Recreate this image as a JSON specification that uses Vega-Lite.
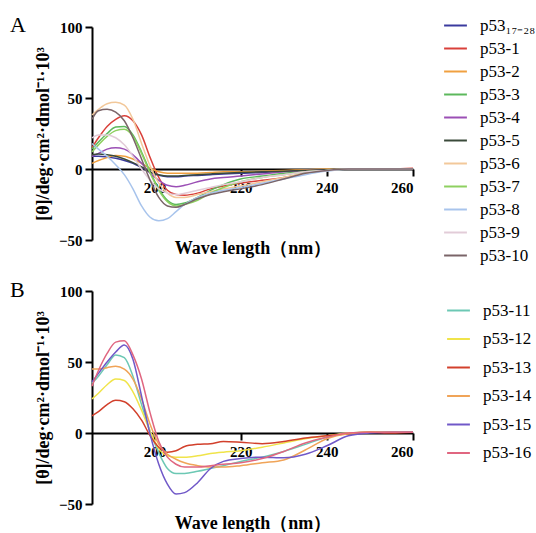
{
"$schema": "https://vega.github.io/schema/vega-lite/v6.json",
"padding": {"left": 10, "top": 13, "right": 5, "bottom": 0},
"config": {
 "view": {"stroke": null},
 "font": "Liberation Serif",
 "concat": {"spacing": 15},
 "axis": {"grid": false, "domainColor": "black", "domainWidth": 2, "tickColor": "black", "tickWidth": 2, "tickSize": 7, "labelFont": "Liberation Serif", "labelFontSize": 15, "labelFontWeight": "bold", "labelColor": "black", "titleFont": "Liberation Serif", "titleFontSize": 18, "titleFontWeight": "bold", "titleColor": "black"},
 "legend": {"symbolType": "stroke", "symbolStrokeWidth": 2, "symbolSize": 520, "labelFont": "Liberation Serif", "labelFontSize": 17, "labelColor": "black", "labelOffset": 12, "padding": 0}
},
"datasets": {
"A": [
{"s":"p53₁₇₋₂₈","x":185.5,"y":9},{"s":"p53₁₇₋₂₈","x":187,"y":9},{"s":"p53₁₇₋₂₈","x":189,"y":8.5},{"s":"p53₁₇₋₂₈","x":191,"y":7.5},{"s":"p53₁₇₋₂₈","x":193,"y":6},{"s":"p53₁₇₋₂₈","x":195,"y":4},{"s":"p53₁₇₋₂₈","x":197,"y":1},{"s":"p53₁₇₋₂₈","x":199,"y":-2.5},{"s":"p53₁₇₋₂₈","x":201,"y":-4.5},{"s":"p53₁₇₋₂₈","x":203,"y":-5.5},{"s":"p53₁₇₋₂₈","x":205,"y":-5.5},{"s":"p53₁₇₋₂₈","x":207,"y":-5},{"s":"p53₁₇₋₂₈","x":210,"y":-4.5},{"s":"p53₁₇₋₂₈","x":213,"y":-4},{"s":"p53₁₇₋₂₈","x":216,"y":-3.5},{"s":"p53₁₇₋₂₈","x":220,"y":-3},{"s":"p53₁₇₋₂₈","x":225,"y":-2.5},{"s":"p53₁₇₋₂₈","x":230,"y":-1.5},{"s":"p53₁₇₋₂₈","x":235,"y":-1},{"s":"p53₁₇₋₂₈","x":240,"y":-0.5},{"s":"p53₁₇₋₂₈","x":245,"y":0},{"s":"p53₁₇₋₂₈","x":250,"y":0},{"s":"p53₁₇₋₂₈","x":255,"y":0},{"s":"p53₁₇₋₂₈","x":260,"y":0},
{"s":"p53-1","x":185.5,"y":15},{"s":"p53-1","x":187,"y":22},{"s":"p53-1","x":189,"y":30},{"s":"p53-1","x":191,"y":35},{"s":"p53-1","x":193,"y":37.5},{"s":"p53-1","x":195,"y":34},{"s":"p53-1","x":197,"y":24},{"s":"p53-1","x":199,"y":8},{"s":"p53-1","x":201,"y":-6},{"s":"p53-1","x":203,"y":-15},{"s":"p53-1","x":205,"y":-18},{"s":"p53-1","x":207,"y":-18.5},{"s":"p53-1","x":210,"y":-17},{"s":"p53-1","x":213,"y":-14},{"s":"p53-1","x":216,"y":-12},{"s":"p53-1","x":220,"y":-10},{"s":"p53-1","x":225,"y":-8},{"s":"p53-1","x":230,"y":-6},{"s":"p53-1","x":235,"y":-3},{"s":"p53-1","x":240,"y":-1},{"s":"p53-1","x":245,"y":0},{"s":"p53-1","x":250,"y":0},{"s":"p53-1","x":255,"y":0},{"s":"p53-1","x":260,"y":0.5},
{"s":"p53-2","x":185.5,"y":4},{"s":"p53-2","x":187,"y":6},{"s":"p53-2","x":189,"y":8},{"s":"p53-2","x":191,"y":9.5},{"s":"p53-2","x":193,"y":9},{"s":"p53-2","x":195,"y":7},{"s":"p53-2","x":197,"y":4},{"s":"p53-2","x":199,"y":0.5},{"s":"p53-2","x":201,"y":-2},{"s":"p53-2","x":203,"y":-3},{"s":"p53-2","x":205,"y":-3},{"s":"p53-2","x":207,"y":-3},{"s":"p53-2","x":210,"y":-3},{"s":"p53-2","x":213,"y":-2.5},{"s":"p53-2","x":216,"y":-2},{"s":"p53-2","x":220,"y":-2},{"s":"p53-2","x":225,"y":-1.5},{"s":"p53-2","x":230,"y":-1},{"s":"p53-2","x":235,"y":-0.5},{"s":"p53-2","x":240,"y":0},{"s":"p53-2","x":245,"y":0},{"s":"p53-2","x":250,"y":0},{"s":"p53-2","x":255,"y":0},{"s":"p53-2","x":260,"y":0},
{"s":"p53-3","x":185.5,"y":14},{"s":"p53-3","x":187,"y":19},{"s":"p53-3","x":189,"y":25},{"s":"p53-3","x":191,"y":29.5},{"s":"p53-3","x":193,"y":30},{"s":"p53-3","x":195,"y":24},{"s":"p53-3","x":197,"y":12},{"s":"p53-3","x":199,"y":-2},{"s":"p53-3","x":201,"y":-14},{"s":"p53-3","x":203,"y":-22},{"s":"p53-3","x":205,"y":-25},{"s":"p53-3","x":207,"y":-24},{"s":"p53-3","x":210,"y":-20},{"s":"p53-3","x":213,"y":-15},{"s":"p53-3","x":216,"y":-11},{"s":"p53-3","x":220,"y":-7},{"s":"p53-3","x":225,"y":-5},{"s":"p53-3","x":230,"y":-3},{"s":"p53-3","x":235,"y":-1.5},{"s":"p53-3","x":240,"y":-0.5},{"s":"p53-3","x":245,"y":0},{"s":"p53-3","x":250,"y":0},{"s":"p53-3","x":255,"y":0},{"s":"p53-3","x":260,"y":0},
{"s":"p53-4","x":185.5,"y":9},{"s":"p53-4","x":187,"y":11},{"s":"p53-4","x":189,"y":14},{"s":"p53-4","x":191,"y":15},{"s":"p53-4","x":193,"y":14},{"s":"p53-4","x":195,"y":10},{"s":"p53-4","x":197,"y":4},{"s":"p53-4","x":199,"y":-3},{"s":"p53-4","x":201,"y":-8},{"s":"p53-4","x":203,"y":-11.5},{"s":"p53-4","x":205,"y":-12.5},{"s":"p53-4","x":207,"y":-11.5},{"s":"p53-4","x":210,"y":-9},{"s":"p53-4","x":213,"y":-7},{"s":"p53-4","x":216,"y":-6},{"s":"p53-4","x":220,"y":-5},{"s":"p53-4","x":225,"y":-3.5},{"s":"p53-4","x":230,"y":-2},{"s":"p53-4","x":235,"y":-1},{"s":"p53-4","x":240,"y":-0.5},{"s":"p53-4","x":245,"y":0},{"s":"p53-4","x":250,"y":0},{"s":"p53-4","x":255,"y":0},{"s":"p53-4","x":260,"y":0},
{"s":"p53-5","x":185.5,"y":10},{"s":"p53-5","x":187,"y":10.5},{"s":"p53-5","x":189,"y":10},{"s":"p53-5","x":191,"y":9},{"s":"p53-5","x":193,"y":7},{"s":"p53-5","x":195,"y":4.5},{"s":"p53-5","x":197,"y":1.5},{"s":"p53-5","x":199,"y":-2},{"s":"p53-5","x":201,"y":-4},{"s":"p53-5","x":203,"y":-5},{"s":"p53-5","x":205,"y":-5},{"s":"p53-5","x":207,"y":-4.5},{"s":"p53-5","x":210,"y":-4},{"s":"p53-5","x":213,"y":-3.5},{"s":"p53-5","x":216,"y":-3},{"s":"p53-5","x":220,"y":-2.5},{"s":"p53-5","x":225,"y":-2},{"s":"p53-5","x":230,"y":-1.5},{"s":"p53-5","x":235,"y":-1},{"s":"p53-5","x":240,"y":-0.5},{"s":"p53-5","x":245,"y":0},{"s":"p53-5","x":250,"y":0},{"s":"p53-5","x":255,"y":0},{"s":"p53-5","x":260,"y":0},
{"s":"p53-6","x":185.5,"y":38},{"s":"p53-6","x":187,"y":42},{"s":"p53-6","x":189,"y":46},{"s":"p53-6","x":191,"y":47},{"s":"p53-6","x":193,"y":45},{"s":"p53-6","x":195,"y":35},{"s":"p53-6","x":197,"y":18},{"s":"p53-6","x":199,"y":2},{"s":"p53-6","x":201,"y":-10},{"s":"p53-6","x":203,"y":-17},{"s":"p53-6","x":205,"y":-20},{"s":"p53-6","x":207,"y":-20},{"s":"p53-6","x":210,"y":-18},{"s":"p53-6","x":213,"y":-16},{"s":"p53-6","x":216,"y":-14},{"s":"p53-6","x":220,"y":-12},{"s":"p53-6","x":225,"y":-9},{"s":"p53-6","x":230,"y":-6},{"s":"p53-6","x":235,"y":-3},{"s":"p53-6","x":240,"y":-1},{"s":"p53-6","x":245,"y":0},{"s":"p53-6","x":250,"y":0},{"s":"p53-6","x":255,"y":0},{"s":"p53-6","x":260,"y":0},
{"s":"p53-7","x":185.5,"y":12},{"s":"p53-7","x":187,"y":17},{"s":"p53-7","x":189,"y":23},{"s":"p53-7","x":191,"y":27},{"s":"p53-7","x":193,"y":28},{"s":"p53-7","x":195,"y":23},{"s":"p53-7","x":197,"y":11},{"s":"p53-7","x":199,"y":-3},{"s":"p53-7","x":201,"y":-15},{"s":"p53-7","x":203,"y":-23},{"s":"p53-7","x":205,"y":-26},{"s":"p53-7","x":207,"y":-25},{"s":"p53-7","x":210,"y":-22},{"s":"p53-7","x":213,"y":-17},{"s":"p53-7","x":216,"y":-13},{"s":"p53-7","x":220,"y":-9},{"s":"p53-7","x":225,"y":-6},{"s":"p53-7","x":230,"y":-4},{"s":"p53-7","x":235,"y":-2},{"s":"p53-7","x":240,"y":-1},{"s":"p53-7","x":245,"y":0},{"s":"p53-7","x":250,"y":0},{"s":"p53-7","x":255,"y":0},{"s":"p53-7","x":260,"y":0},
{"s":"p53-8","x":185.5,"y":18},{"s":"p53-8","x":187,"y":14},{"s":"p53-8","x":189,"y":9},{"s":"p53-8","x":191,"y":3},{"s":"p53-8","x":193,"y":-4},{"s":"p53-8","x":195,"y":-14},{"s":"p53-8","x":197,"y":-26},{"s":"p53-8","x":199,"y":-34},{"s":"p53-8","x":201,"y":-36.5},{"s":"p53-8","x":203,"y":-35},{"s":"p53-8","x":205,"y":-30},{"s":"p53-8","x":207,"y":-25},{"s":"p53-8","x":210,"y":-20},{"s":"p53-8","x":213,"y":-17},{"s":"p53-8","x":216,"y":-15},{"s":"p53-8","x":220,"y":-13},{"s":"p53-8","x":225,"y":-10},{"s":"p53-8","x":230,"y":-7},{"s":"p53-8","x":235,"y":-4},{"s":"p53-8","x":240,"y":-1.5},{"s":"p53-8","x":245,"y":0},{"s":"p53-8","x":250,"y":0},{"s":"p53-8","x":255,"y":0},{"s":"p53-8","x":260,"y":0},
{"s":"p53-9","x":185.5,"y":22},{"s":"p53-9","x":187,"y":24},{"s":"p53-9","x":189,"y":24},{"s":"p53-9","x":191,"y":22},{"s":"p53-9","x":193,"y":17},{"s":"p53-9","x":195,"y":9},{"s":"p53-9","x":197,"y":0},{"s":"p53-9","x":199,"y":-8},{"s":"p53-9","x":201,"y":-14},{"s":"p53-9","x":203,"y":-17},{"s":"p53-9","x":205,"y":-18},{"s":"p53-9","x":207,"y":-17},{"s":"p53-9","x":210,"y":-15},{"s":"p53-9","x":213,"y":-13},{"s":"p53-9","x":216,"y":-11},{"s":"p53-9","x":220,"y":-9},{"s":"p53-9","x":225,"y":-6},{"s":"p53-9","x":230,"y":-4},{"s":"p53-9","x":235,"y":-2},{"s":"p53-9","x":240,"y":-1},{"s":"p53-9","x":245,"y":0},{"s":"p53-9","x":250,"y":0},{"s":"p53-9","x":255,"y":0},{"s":"p53-9","x":260,"y":0},
{"s":"p53-10","x":185.5,"y":35},{"s":"p53-10","x":187,"y":41},{"s":"p53-10","x":189,"y":42},{"s":"p53-10","x":191,"y":40},{"s":"p53-10","x":193,"y":34},{"s":"p53-10","x":195,"y":22},{"s":"p53-10","x":197,"y":7},{"s":"p53-10","x":199,"y":-8},{"s":"p53-10","x":201,"y":-20},{"s":"p53-10","x":203,"y":-26},{"s":"p53-10","x":205,"y":-27},{"s":"p53-10","x":207,"y":-25},{"s":"p53-10","x":210,"y":-21},{"s":"p53-10","x":213,"y":-18},{"s":"p53-10","x":216,"y":-16},{"s":"p53-10","x":220,"y":-14},{"s":"p53-10","x":225,"y":-11},{"s":"p53-10","x":230,"y":-7},{"s":"p53-10","x":235,"y":-3},{"s":"p53-10","x":240,"y":-1},{"s":"p53-10","x":245,"y":0},{"s":"p53-10","x":250,"y":0},{"s":"p53-10","x":255,"y":0},{"s":"p53-10","x":260,"y":0}
],
"B": [
{"s":"p53-11","x":185.5,"y":35},{"s":"p53-11","x":187,"y":40},{"s":"p53-11","x":189,"y":48},{"s":"p53-11","x":191,"y":55},{"s":"p53-11","x":193,"y":53},{"s":"p53-11","x":195,"y":40},{"s":"p53-11","x":197,"y":20},{"s":"p53-11","x":199,"y":1},{"s":"p53-11","x":201,"y":-14},{"s":"p53-11","x":203,"y":-25},{"s":"p53-11","x":205,"y":-28.5},{"s":"p53-11","x":207,"y":-28.5},{"s":"p53-11","x":210,"y":-27},{"s":"p53-11","x":213,"y":-25},{"s":"p53-11","x":216,"y":-23},{"s":"p53-11","x":220,"y":-20},{"s":"p53-11","x":225,"y":-17},{"s":"p53-11","x":230,"y":-13},{"s":"p53-11","x":235,"y":-8},{"s":"p53-11","x":240,"y":-3},{"s":"p53-11","x":245,"y":0},{"s":"p53-11","x":250,"y":0.5},{"s":"p53-11","x":255,"y":0.5},{"s":"p53-11","x":260,"y":0.5},
{"s":"p53-12","x":185.5,"y":24},{"s":"p53-12","x":187,"y":28},{"s":"p53-12","x":189,"y":34},{"s":"p53-12","x":191,"y":38},{"s":"p53-12","x":193,"y":37},{"s":"p53-12","x":195,"y":29},{"s":"p53-12","x":197,"y":16},{"s":"p53-12","x":199,"y":1},{"s":"p53-12","x":201,"y":-11},{"s":"p53-12","x":203,"y":-16},{"s":"p53-12","x":205,"y":-17},{"s":"p53-12","x":207,"y":-17},{"s":"p53-12","x":210,"y":-16},{"s":"p53-12","x":213,"y":-14.5},{"s":"p53-12","x":216,"y":-13.5},{"s":"p53-12","x":220,"y":-12.5},{"s":"p53-12","x":225,"y":-10},{"s":"p53-12","x":230,"y":-7},{"s":"p53-12","x":235,"y":-4},{"s":"p53-12","x":240,"y":-2},{"s":"p53-12","x":245,"y":0},{"s":"p53-12","x":250,"y":0.5},{"s":"p53-12","x":255,"y":0.5},{"s":"p53-12","x":260,"y":0.5},
{"s":"p53-13","x":185.5,"y":12},{"s":"p53-13","x":187,"y":15},{"s":"p53-13","x":189,"y":20},{"s":"p53-13","x":191,"y":23},{"s":"p53-13","x":193,"y":22},{"s":"p53-13","x":195,"y":17},{"s":"p53-13","x":197,"y":9},{"s":"p53-13","x":199,"y":-2},{"s":"p53-13","x":201,"y":-10},{"s":"p53-13","x":203,"y":-13.5},{"s":"p53-13","x":205,"y":-12.5},{"s":"p53-13","x":207,"y":-9.5},{"s":"p53-13","x":210,"y":-8},{"s":"p53-13","x":213,"y":-7.5},{"s":"p53-13","x":216,"y":-6},{"s":"p53-13","x":220,"y":-6.5},{"s":"p53-13","x":225,"y":-7.5},{"s":"p53-13","x":230,"y":-6},{"s":"p53-13","x":235,"y":-3.5},{"s":"p53-13","x":240,"y":-2},{"s":"p53-13","x":245,"y":-0.5},{"s":"p53-13","x":250,"y":0.5},{"s":"p53-13","x":255,"y":0},{"s":"p53-13","x":260,"y":0.5},
{"s":"p53-14","x":185.5,"y":45},{"s":"p53-14","x":187,"y":45},{"s":"p53-14","x":189,"y":46},{"s":"p53-14","x":191,"y":47},{"s":"p53-14","x":193,"y":45},{"s":"p53-14","x":195,"y":38},{"s":"p53-14","x":197,"y":24},{"s":"p53-14","x":199,"y":6},{"s":"p53-14","x":201,"y":-8},{"s":"p53-14","x":203,"y":-15},{"s":"p53-14","x":205,"y":-18.5},{"s":"p53-14","x":207,"y":-21},{"s":"p53-14","x":210,"y":-23},{"s":"p53-14","x":213,"y":-24},{"s":"p53-14","x":216,"y":-24},{"s":"p53-14","x":220,"y":-23},{"s":"p53-14","x":225,"y":-21},{"s":"p53-14","x":230,"y":-19},{"s":"p53-14","x":235,"y":-12},{"s":"p53-14","x":240,"y":-4},{"s":"p53-14","x":245,"y":-0.5},{"s":"p53-14","x":250,"y":0.5},{"s":"p53-14","x":255,"y":0.5},{"s":"p53-14","x":260,"y":0.5},
{"s":"p53-15","x":185.5,"y":36},{"s":"p53-15","x":187,"y":42},{"s":"p53-15","x":189,"y":50},{"s":"p53-15","x":191,"y":57},{"s":"p53-15","x":193,"y":62},{"s":"p53-15","x":195,"y":52},{"s":"p53-15","x":197,"y":26},{"s":"p53-15","x":199,"y":-1},{"s":"p53-15","x":201,"y":-22},{"s":"p53-15","x":203,"y":-36},{"s":"p53-15","x":205,"y":-43},{"s":"p53-15","x":207,"y":-42},{"s":"p53-15","x":210,"y":-35},{"s":"p53-15","x":213,"y":-25},{"s":"p53-15","x":216,"y":-20},{"s":"p53-15","x":220,"y":-18},{"s":"p53-15","x":225,"y":-17},{"s":"p53-15","x":230,"y":-17.5},{"s":"p53-15","x":235,"y":-15},{"s":"p53-15","x":240,"y":-9},{"s":"p53-15","x":245,"y":-2},{"s":"p53-15","x":250,"y":0},{"s":"p53-15","x":255,"y":0.5},{"s":"p53-15","x":260,"y":0.5},
{"s":"p53-16","x":185.5,"y":33},{"s":"p53-16","x":187,"y":44},{"s":"p53-16","x":189,"y":56},{"s":"p53-16","x":191,"y":64},{"s":"p53-16","x":193,"y":65},{"s":"p53-16","x":195,"y":55},{"s":"p53-16","x":197,"y":38},{"s":"p53-16","x":199,"y":14},{"s":"p53-16","x":201,"y":-6},{"s":"p53-16","x":203,"y":-17},{"s":"p53-16","x":205,"y":-22},{"s":"p53-16","x":207,"y":-24},{"s":"p53-16","x":210,"y":-24},{"s":"p53-16","x":213,"y":-23},{"s":"p53-16","x":216,"y":-22},{"s":"p53-16","x":220,"y":-21},{"s":"p53-16","x":225,"y":-18},{"s":"p53-16","x":230,"y":-13},{"s":"p53-16","x":235,"y":-7},{"s":"p53-16","x":240,"y":-3},{"s":"p53-16","x":245,"y":0},{"s":"p53-16","x":250,"y":0.5},{"s":"p53-16","x":255,"y":0.5},{"s":"p53-16","x":260,"y":0.5}
]
},
"vconcat": [
{
 "title": {"text": "A", "anchor": "start", "frame": "group", "dx": -82, "offset": -24, "fontSize": 22, "fontWeight": "normal", "font": "Liberation Serif", "color": "black"},
 "width": 321, "height": 213,
 "data": {"name": "A"},
 "mark": {"type": "line", "interpolate": "monotone", "strokeWidth": 1.5},
 "encoding": {
  "x": {"field": "x", "type": "quantitative", "scale": {"domain": [185.5, 260], "nice": false, "zero": false}, "axis": {"values": [200, 220, 240, 260], "offset": -71, "labelPadding": 4, "title": "Wave length（nm）", "titlePadding": 44}},
  "y": {"field": "y", "type": "quantitative", "scale": {"domain": [-50, 100], "nice": false}, "axis": {"values": [-50, 0, 50, 100], "title": "[θ]/deg·cm²·dmol⁻¹·10³", "labelPadding": 3, "titlePadding": 6}},
  "color": {"field": "s", "type": "nominal", "sort": null,
   "scale": {"domain": ["p53₁₇₋₂₈", "p53-1", "p53-2", "p53-3", "p53-4", "p53-5", "p53-6", "p53-7", "p53-8", "p53-9", "p53-10"],
             "range": ["#3a3a9e", "#d9403a", "#f0a040", "#5cb85c", "#9b4fb5", "#3a4a3a", "#f2c89a", "#8ed060", "#a8c4ec", "#e2ccd8", "#7a6468"]},
   "legend": {"title": null, "orient": "none", "legendX": 351, "legendY": -14, "rowPadding": 2}}
 }
},
{
 "title": {"text": "B", "anchor": "start", "frame": "group", "dx": -82, "offset": -18, "fontSize": 22, "fontWeight": "normal", "font": "Liberation Serif", "color": "black"},
 "width": 321, "height": 213,
 "data": {"name": "B"},
 "mark": {"type": "line", "interpolate": "monotone", "strokeWidth": 1.5},
 "encoding": {
  "x": {"field": "x", "type": "quantitative", "scale": {"domain": [185.5, 260], "nice": false, "zero": false}, "axis": {"values": [200, 220, 240, 260], "offset": -71, "labelPadding": 4, "title": "Wave length（nm）", "titlePadding": 55}},
  "y": {"field": "y", "type": "quantitative", "scale": {"domain": [-50, 100], "nice": false}, "axis": {"values": [-50, 0, 50, 100], "title": "[θ]/deg·cm²·dmol⁻¹·10³", "labelPadding": 3, "titlePadding": 6}},
  "color": {"field": "s", "type": "nominal", "sort": null,
   "scale": {"domain": ["p53-11", "p53-12", "p53-13", "p53-14", "p53-15", "p53-16"],
             "range": ["#6cc8b4", "#f0e44a", "#d2402c", "#f0a458", "#7058c8", "#e06680"]},
   "legend": {"title": null, "orient": "none", "legendX": 354, "legendY": 7, "rowPadding": 7.5}}
 }
}
],
"resolve": {"scale": {"color": "independent"}}
}
